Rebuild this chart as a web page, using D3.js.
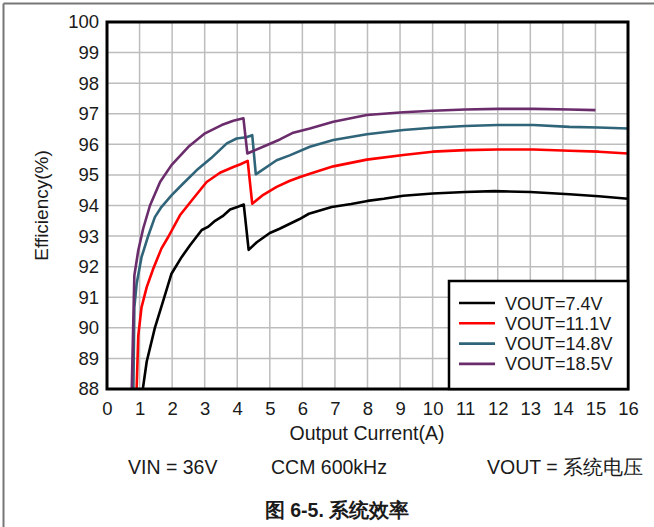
<!DOCTYPE html>
<html>
<head>
<meta charset="utf-8">
<script src="https://cdn.jsdelivr.net/npm/d3@7"></script>
<style>
body { margin:0; background:#fff; }
text { font-family: Arial, "Liberation Sans", sans-serif; fill:#1a1a1a; }
</style>
</head>
<body>
<svg id="chart"></svg>
<script>
// tick values
var xTicks = d3.range(0,17)
var yTicks = d3.range(88,101)

var seriesNames = ["VOUT=7.4V","VOUT=11.1V","VOUT=14.8V","VOUT=18.5V"]
var seriesColors = ["#000000","#ff0000","#2f6479","#6b2c6c"]

// VOUT=7.4V
var x74 = [1.05,1.1,1.22,1.47,1.73,1.98,2.29,2.55,2.91,3.1,3.32,3.55,3.78,4.0,4.2,4.35,4.6,5.0,5.3,5.9,6.2,6.9,7.5,8.0,8.5,9.1,10.0,11.0,11.9,13.0,14.2,15.1,16]
var y74 = [87.5,88.0,88.9,90.0,90.9,91.77,92.31,92.7,93.2,93.3,93.5,93.65,93.87,93.95,94.03,92.55,92.8,93.1,93.24,93.55,93.73,93.95,94.05,94.15,94.22,94.32,94.39,94.44,94.47,94.44,94.37,94.3,94.22]
// VOUT=11.1V
var x111 = [0.9,0.91,0.96,1.06,1.22,1.42,1.67,1.88,2.24,2.65,3.06,3.47,3.88,4.1,4.32,4.46,4.8,5.21,5.6,5.93,6.23,6.95,7.98,9.1,10.0,11.0,12.0,13.1,14.2,15.1,16]
var y111 = [87.5,88.0,89.74,90.67,91.33,91.93,92.59,92.97,93.68,94.23,94.77,95.07,95.26,95.35,95.46,94.06,94.35,94.61,94.8,94.93,95.04,95.28,95.5,95.65,95.76,95.81,95.83,95.83,95.79,95.76,95.7]
// VOUT=14.8V
var x148 = [0.8,0.81,0.84,0.91,1.06,1.27,1.47,1.67,1.98,2.34,2.75,3.2,3.68,3.98,4.28,4.46,4.57,5.21,5.61,6.23,6.95,7.98,9.1,10.0,11.0,12.0,13.1,14.2,15.1,16]
var y148 = [87.5,88.0,90.67,91.44,92.31,93.02,93.62,93.95,94.33,94.72,95.15,95.55,96.03,96.19,96.23,96.3,95.02,95.48,95.64,95.92,96.14,96.33,96.47,96.54,96.6,96.63,96.63,96.57,96.55,96.52]
// VOUT=18.5V
var x185 = [0.75,0.76,0.84,0.96,1.11,1.32,1.63,1.98,2.5,3.01,3.52,3.88,4.19,4.31,4.9,5.31,5.72,6.23,6.95,7.98,9.1,10.0,11.0,12.0,13.1,14.2,15.0]
var y185 = [87.5,88.0,91.71,92.53,93.24,94.0,94.77,95.32,95.92,96.36,96.63,96.77,96.85,95.7,95.97,96.16,96.38,96.52,96.74,96.96,97.05,97.1,97.14,97.16,97.16,97.14,97.12]

var seriesX = [x74,x111,x148,x185]
var seriesY = [y74,y111,y148,y185]

var footNotes = ["VIN = 36V","CCM 600kHz","VOUT = 系统电压"]
var caption = "图 6-5. 系统效率"

var screen = {width:654,height:527}
var margins = {left:107,right:26,top:22,bottom:138}
var graph = {
    width:screen.width-margins.left-margins.right,
    height:screen.height-margins.top-margins.bottom
}

var svg = d3.select("#chart")
    .attr("width",screen.width)
    .attr("height",screen.height)

// page frame
svg.append("line").attr("x1",3.5).attr("y1",3.5).attr("x2",3.5).attr("y2",screen.height)
    .attr("stroke","#777").attr("stroke-width",2)
svg.append("line").attr("x1",3.5).attr("y1",3.5).attr("x2",screen.width).attr("y2",3.5)
    .attr("stroke","#777").attr("stroke-width",2)

var xScale = d3.scaleLinear().domain([0,16]).range([0,graph.width])
var yScale = d3.scaleLinear().domain([88,100]).range([graph.height,0])

var target = svg.append("g")
    .attr("transform","translate("+margins.left+","+margins.top+")")

target.append("clipPath").attr("id","plotClip")
    .append("rect").attr("width",graph.width).attr("height",graph.height)

// grid
target.append("g")
    .selectAll("line.vg").data(xTicks).enter().append("line")
    .attr("x1",function(d){return xScale(d)}).attr("x2",function(d){return xScale(d)})
    .attr("y1",0).attr("y2",graph.height)
    .attr("stroke","#bdbdbd").attr("stroke-width",1.5)
target.append("g")
    .selectAll("line.hg").data(yTicks).enter().append("line")
    .attr("y1",function(d){return yScale(d)}).attr("y2",function(d){return yScale(d)})
    .attr("x1",0).attr("x2",graph.width)
    .attr("stroke","#bdbdbd").attr("stroke-width",1.5)

// axes (labels only)
var xAxis = d3.axisBottom(xScale).tickValues(xTicks).tickSize(0).tickPadding(13).tickFormat(d3.format("d"))
var yAxis = d3.axisLeft(yScale).tickValues(yTicks).tickSize(0).tickPadding(8).tickFormat(d3.format("d"))

var gx = target.append("g").attr("transform","translate(0,"+graph.height+")").call(xAxis)
var gy = target.append("g").call(yAxis)
gx.select(".domain").remove()
gy.select(".domain").remove()
gx.selectAll("text").style("font-size","18.5px").attr("fill","#1a1a1a")
gy.selectAll("text").style("font-size","18.5px").attr("fill","#1a1a1a")

// lines
var line = d3.line()
    .x(function(d){return xScale(d[0])})
    .y(function(d){return yScale(d[1])})

var lines = target.append("g").attr("clip-path","url(#plotClip)")
seriesX.forEach(function(xs,i){
    var pts = xs.map(function(x,j){return [x,seriesY[i][j]]})
    lines.append("path")
        .datum(pts)
        .attr("d",line)
        .attr("fill","none")
        .attr("stroke",seriesColors[i])
        .attr("stroke-width",2.6)
        .attr("stroke-linejoin","round")
})

// plot border
target.append("rect")
    .attr("width",graph.width).attr("height",graph.height)
    .attr("fill","none").attr("stroke","#000").attr("stroke-width",3)

// legend
var legend = target.append("g")
    .attr("transform","translate("+(graph.width-179)+","+(graph.height-108)+")")
legend.append("rect").attr("width",179).attr("height",108)
    .attr("fill","#fff").attr("stroke","#000").attr("stroke-width",2.5)
var entries = legend.selectAll("g.entry").data(seriesNames).enter().append("g")
    .attr("transform",function(d,i){return "translate(0,"+(22+i*20.3)+")"})
entries.append("line").attr("x1",10).attr("x2",46).attr("y1",0).attr("y2",0)
    .attr("stroke",function(d,i){return seriesColors[i]}).attr("stroke-width",2.6)
entries.append("text").text(function(d){return d})
    .attr("x",56).attr("y",6.5).style("font-size","18px")

// labels
svg.append("text").text("Output Current(A)")
    .attr("text-anchor","middle")
    .attr("x",367).attr("y",440)
    .style("font-size","19.5px")
svg.append("text").text("Efficiency(%)")
    .attr("text-anchor","middle")
    .attr("transform","translate(48,"+(margins.top+graph.height/2)+") rotate(-90)")
    .style("font-size","19px")

var footX = [128,271,487]
svg.selectAll("text.foot").data(footNotes).enter().append("text")
    .attr("class","foot")
    .text(function(d){return d})
    .attr("x",function(d,i){return footX[i]}).attr("y",474)
    .style("font-size","19.5px")

svg.append("text").text(caption)
    .attr("text-anchor","middle")
    .attr("x",337).attr("y",517)
    .style("font-size","19.5px").style("font-weight","bold")
</script>
</body>
</html>
